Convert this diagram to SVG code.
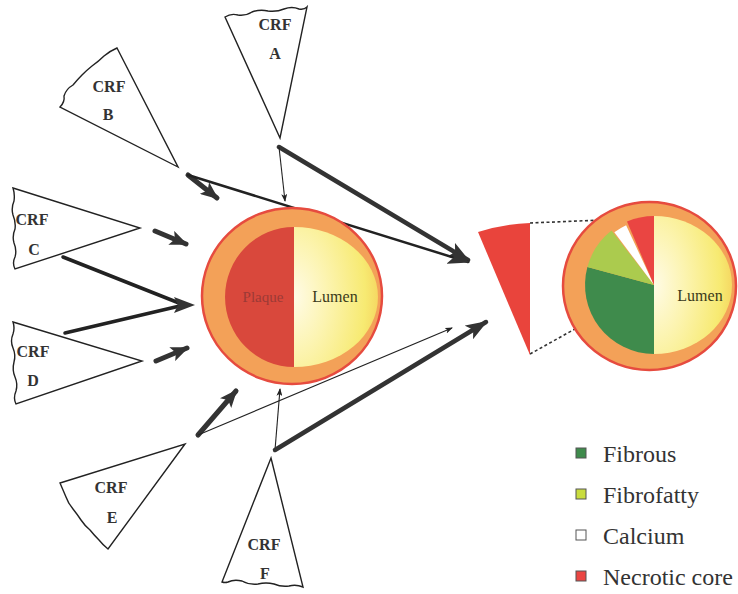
<svg xmlns="http://www.w3.org/2000/svg" width="738" height="594" viewBox="0 0 738 594">
  <style>
    .wedge { fill: #ffffff; stroke: #222; stroke-width: 1.4; stroke-linejoin: miter; }
    .crf { font-family: "Liberation Serif", "Times New Roman", serif; font-weight: bold; font-size: 16px; fill: #333; text-anchor: middle; }
    .lbl { font-family: "Liberation Serif", "Times New Roman", serif; font-size: 16px; fill: #3a3a1a; text-anchor: middle; }
    .plq { font-family: "Liberation Serif", "Times New Roman", serif; font-size: 15px; fill: #9c3a36; text-anchor: middle; }
    .leg { font-family: "Liberation Serif", "Times New Roman", serif; font-size: 24px; fill: #333; }
    .sq { stroke: #555; stroke-width: 1; }
    .thick { stroke: #333; stroke-width: 4.5; fill: none; stroke-linecap: round; }
    .mid { stroke: #222; stroke-width: 2.5; fill: none; stroke-linecap: round; }
    .thin { stroke: #222; stroke-width: 1.1; fill: none; }
    .short { stroke: #333; stroke-width: 5; fill: none; stroke-linecap: round; }
    .dot { stroke: #333; stroke-width: 1.6; stroke-dasharray: 3 2.5; fill: none; }
    .ring { fill: #f3a158; stroke: #e64b3f; stroke-width: 2.5; }
    .fibrous { fill: #3f8b4c; }
    .fibrofatty { fill: #abcb4e; }
    .fibrofatty-key { fill: #c9dc3e; }
    .calcium { fill: #ffffff; }
    .necrotic { fill: #ea4542; }
  </style>
  <defs>
    <radialGradient id="lumenGrad" cx="0" cy="0.5" r="1" fx="0" fy="0.5">
      <stop offset="0" stop-color="#fffbe6"/>
      <stop offset="0.4" stop-color="#fcf4b0"/>
      <stop offset="0.85" stop-color="#f7ea72"/>
      <stop offset="1" stop-color="#f5d862"/>
    </radialGradient>
    <marker id="headBig" markerUnits="userSpaceOnUse" markerWidth="22" markerHeight="16" refX="20" refY="8" orient="auto">
      <path d="M0,0 L22,8 L0,16 L5,8 Z" fill="#333"/>
    </marker>
    <marker id="headShort" markerUnits="userSpaceOnUse" markerWidth="18" markerHeight="15" refX="16" refY="7.5" orient="auto">
      <path d="M0,0 L18,7.5 L0,15 L4,7.5 Z" fill="#333"/>
    </marker>
    <marker id="headThin" markerUnits="userSpaceOnUse" markerWidth="8" markerHeight="6" refX="7" refY="3" orient="auto">
      <path d="M0,0 L8,3 L0,6 L2,3 Z" fill="#222"/>
    </marker>
  </defs>

  <rect width="738" height="594" fill="#ffffff"/>

  <!-- connectors -->
  <g id="connectors">
    <!-- A: thick line to the segment and thin line down to the vessel -->
    <line class="thick" x1="279" y1="147" x2="468" y2="260" marker-end="url(#headBig)"/>
    <line class="thin" x1="279" y1="147" x2="285" y2="201" marker-end="url(#headThin)"/>
    <!-- B: short arrow to vessel, long line to the segment -->
    <line class="short" x1="188" y1="175" x2="217" y2="198" marker-end="url(#headShort)"/>
    <line class="mid" x1="188" y1="175" x2="468" y2="262" marker-end="url(#headBig)"/>
    <!-- C -->
    <line class="short" x1="155" y1="231" x2="186" y2="244" marker-end="url(#headShort)"/>
    <!-- C and D joined lines into the vessel -->
    <path class="mid" d="M63,257 L184,305 M65,333 L184,305" style="stroke-width:3.5"/>
    <path d="M174,297 L195,305 L174,313 L178,305 Z" fill="#333"/>
    <!-- D -->
    <line class="short" x1="156" y1="361" x2="187" y2="348" marker-end="url(#headShort)"/>
    <!-- E -->
    <line class="short" x1="198" y1="435" x2="236" y2="391" marker-end="url(#headShort)"/>
    <line class="thin" x1="198" y1="435" x2="452" y2="328" marker-end="url(#headThin)"/>
    <!-- F -->
    <line class="thin" x1="275" y1="450" x2="280" y2="389" marker-end="url(#headThin)"/>
    <line class="thick" x1="275" y1="450" x2="486" y2="322" marker-end="url(#headBig)"/>
    <!-- segment magnification lines -->
    <line class="dot" x1="530" y1="223" x2="650" y2="218"/>
    <line class="dot" x1="530" y1="354" x2="654" y2="285"/>
  </g>

  <!-- sampled wedges (torn outer edge drawn as a gentle wave) -->
  <g id="crf-a">
    <path class="wedge" d="M225,17 Q231,13 238,15 Q246,16 252,12 Q260,9 268,11 Q277,12 284,9 Q292,6 299,9 Q304,10 307,7 L280,138 Z"/>
    <text class="crf" x="275" y="30">CRF</text>
    <text class="crf" x="275" y="59">A</text>
  </g>
  <g id="crf-b">
    <path class="wedge" d="M117,48 L178,167 L60,107 Q65,102 64,96 Q66,89 73,85 Q78,79 82,75 Q87,70 92,66 Q99,61 104,56 Q110,51 117,48 Z"/>
    <text class="crf" x="109" y="92">CRF</text>
    <text class="crf" x="108" y="120">B</text>
  </g>
  <g id="crf-c">
    <path class="wedge" d="M13,188 L140,228 L15,269 Q12,263 15,257 Q17,250 14,243 Q12,236 15,229 Q16,222 13,215 Q11,208 14,201 Q15,194 13,188 Z"/>
    <text class="crf" x="32" y="225">CRF</text>
    <text class="crf" x="34" y="255">C</text>
  </g>
  <g id="crf-d">
    <path class="wedge" d="M13,322 L142,361 L16,404 Q13,398 16,391 Q18,384 15,377 Q12,370 14,362 Q16,355 13,348 Q10,341 13,334 Q15,328 13,322 Z"/>
    <text class="crf" x="33" y="357">CRF</text>
    <text class="crf" x="33" y="386">D</text>
  </g>
  <g id="crf-e">
    <path class="wedge" d="M185,444 L108,549 Q103,545 99,540 Q94,535 90,530 Q85,526 81,520 Q77,514 73,509 Q68,503 66,497 Q63,490 60,483 Z"/>
    <text class="crf" x="111" y="493">CRF</text>
    <text class="crf" x="112" y="523">E</text>
  </g>
  <g id="crf-f">
    <path class="wedge" d="M271,458 L303,587 Q296,584 289,586 Q281,587 274,584 Q266,582 258,584 Q249,585 242,581 Q234,579 228,582 Q225,583 222,582 Z"/>
    <text class="crf" x="264" y="550">CRF</text>
    <text class="crf" x="265" y="579">F</text>
  </g>

  <!-- vessel cross-section with plaque and lumen -->
  <g id="vessel">
    <ellipse class="ring" cx="292" cy="296" rx="90" ry="88"/>
    <path d="M294,227 A69,70 0 0 0 294,367 Z" fill="#d9483c"/>
    <path d="M294,227 A84,70 0 0 1 294,367 Z" fill="url(#lumenGrad)"/>
    <text class="plq" x="263" y="302">Plaque</text>
    <text class="lbl" x="335" y="302">Lumen</text>
  </g>

  <!-- extracted necrotic core segment -->
  <g id="segment">
    <path d="M478,232 Q504,224 530,223 L530,355 Z" fill="#e9443c"/>
  </g>

  <!-- tissue composition cross-section -->
  <g id="composition">
    <ellipse class="ring" cx="649.5" cy="286" rx="86.5" ry="84"/>
    <path class="fibrous" d="M654,285 L654,354 A69,69 0 0 1 587.4,267.1 Z"/>
    <path class="fibrofatty" d="M654,285 L587.4,267.1 A69,69 0 0 1 611.5,230.6 Z"/>
    <path class="calcium" d="M654,285 L614.3,232.3 A66,66 0 0 1 626.1,225.2 Z"/>
    <path class="necrotic" d="M654,285 L627,221.5 A69,69 0 0 1 654,216 Z"/>
    <path d="M654,216 A78,69 0 0 1 654,354 Z" fill="url(#lumenGrad)"/>
    <text class="lbl" x="700" y="301">Lumen</text>
  </g>

  <!-- legend -->
  <g id="legend">
    <rect class="sq fibrous" x="576" y="448" width="10" height="10"/>
    <text class="leg" x="603" y="462">Fibrous</text>
    <rect class="sq fibrofatty-key" x="576" y="489" width="10" height="10"/>
    <text class="leg" x="603" y="503">Fibrofatty</text>
    <rect class="sq calcium" x="576" y="530" width="10" height="10"/>
    <text class="leg" x="603" y="544">Calcium</text>
    <rect class="sq necrotic" x="576" y="571" width="10" height="10"/>
    <text class="leg" x="603" y="585">Necrotic core</text>
  </g>
</svg>
